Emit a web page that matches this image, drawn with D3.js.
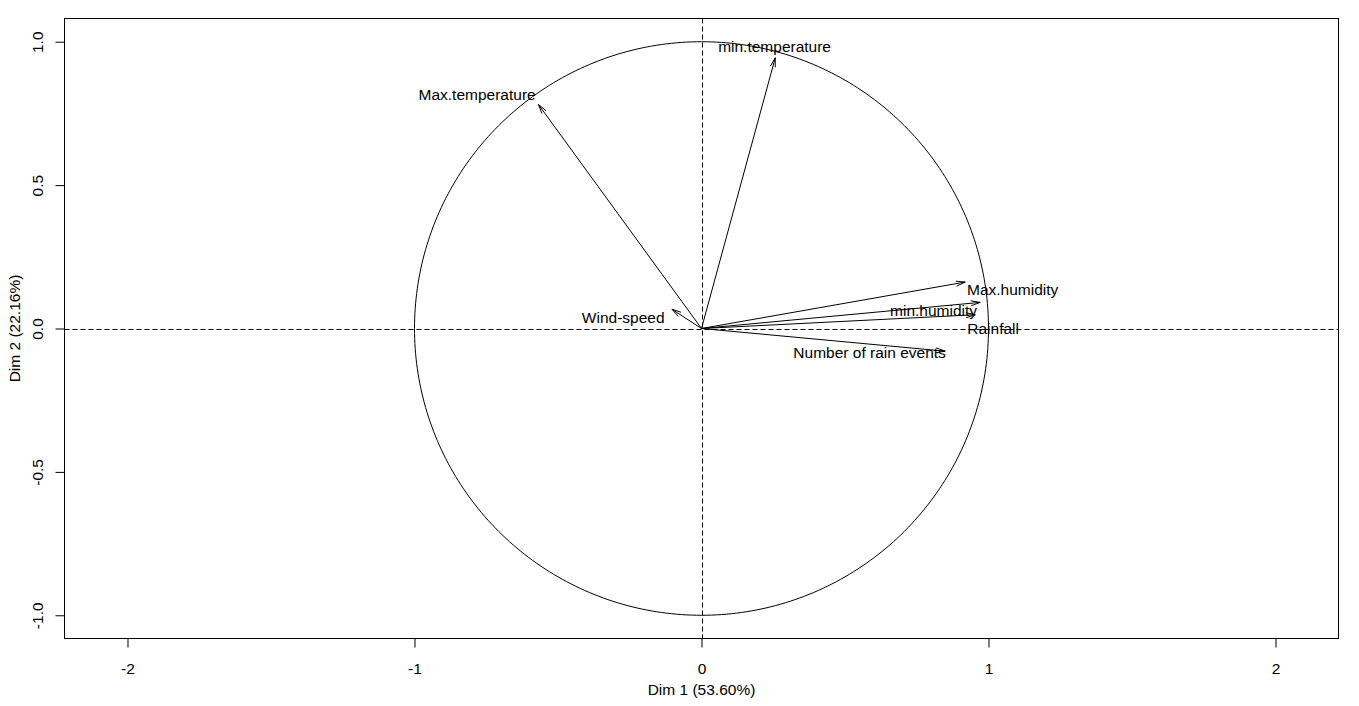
<!DOCTYPE html>
<html>
<head>
<meta charset="utf-8">
<script src="https://cdn.jsdelivr.net/npm/d3@7/dist/d3.min.js"></script>
<style>
  html, body { margin: 0; padding: 0; background: #fff; }
  svg { display: block; }
  text { font-family: "Liberation Sans", Arial, sans-serif; font-size: 15.5px; fill: #000; }
</style>
</head>
<body>
<svg id="chart" width="1359" height="706"></svg>
<script>
// ---- data ----
const variables = ["min.temperature", "Max.temperature", "Max.humidity", "min.humidity", "Rainfall", "Number of rain events", "Wind-speed"];
const dim1 = [0.257, -0.568, 0.919, 0.971, 0.954, 0.849, -0.103];
const dim2 = [0.944, 0.781, 0.162, 0.091, 0.048, -0.079, 0.067];
// label anchors (data units, left edge / baseline) as placed by the original plot
const labelDim1 = [0.058, -0.986, 0.925, 0.657, 0.926, 0.320, -0.417];
const labelDim2 = [0.963, 0.796, 0.118, 0.044, -0.019, -0.102, 0.020];
const xTicks = [-2, -1, 0, 1, 2];
const xTickLabels = ["-2", "-1", "0", "1", "2"];
const yTicks = [-1, -0.5, 0, 0.5, 1];
const yTickLabels = ["-1.0", "-0.5", "0.0", "0.5", "1.0"];
const xTitle = "Dim 1 (53.60%)";
const yTitle = "Dim 2 (22.16%)";

// ---- layout ----
const svg = d3.select("#chart");
const pLeft = 64.5, pRight = 1338.5, pTop = 18.5, pBottom = 638.5;
const x = d3.scaleLinear().domain([-2.2195, 2.2195]).range([pLeft, pRight]);
const y = d3.scaleLinear().domain([-1.081, 1.081]).range([pBottom, pTop]);

// dashed axes lines
svg.append("line").attr("x1", pLeft).attr("x2", pRight)
  .attr("y1", Math.round(y(0)) + 0.5).attr("y2", Math.round(y(0)) + 0.5)
  .attr("stroke", "#000").attr("stroke-width", 1).attr("stroke-dasharray", "5,3");
svg.append("line").attr("y1", pTop).attr("y2", pBottom)
  .attr("x1", Math.round(x(0)) + 0.5).attr("x2", Math.round(x(0)) + 0.5)
  .attr("stroke", "#000").attr("stroke-width", 1).attr("stroke-dasharray", "5,3");

// correlation circle (unit circle)
const angles = d3.range(0, 361, 1).map(d => d * Math.PI / 180);
svg.append("path")
  .attr("d", d3.line().x(a => x(Math.cos(a))).y(a => y(Math.sin(a)))(angles))
  .attr("fill", "none").attr("stroke", "#000").attr("stroke-width", 1);

// arrows
const headLen = 9.6, headAng = 15 * Math.PI / 180;
variables.forEach((v, i) => {
  const x0 = x(0), y0 = y(0), x1 = x(dim1[i]), y1 = y(dim2[i]);
  const th = Math.atan2(y1 - y0, x1 - x0);
  svg.append("line").attr("x1", x0).attr("y1", y0).attr("x2", x1).attr("y2", y1)
    .attr("stroke", "#000").attr("stroke-width", 1);
  const p1 = [x1 - headLen * Math.cos(th - headAng), y1 - headLen * Math.sin(th - headAng)];
  const p2 = [x1 - headLen * Math.cos(th + headAng), y1 - headLen * Math.sin(th + headAng)];
  svg.append("path").attr("d", `M${p1[0]},${p1[1]}L${x1},${y1}L${p2[0]},${p2[1]}`)
    .attr("fill", "none").attr("stroke", "#000").attr("stroke-width", 1);
  svg.append("text").attr("x", x(labelDim1[i])).attr("y", y(labelDim2[i]))
    .attr("text-anchor", "start").text(v);
});

// frame
svg.append("rect").attr("x", pLeft).attr("y", pTop)
  .attr("width", pRight - pLeft).attr("height", pBottom - pTop)
  .attr("fill", "none").attr("stroke", "#000").attr("stroke-width", 1);

// x axis
const gx = svg.append("g").attr("transform", `translate(0,${pBottom})`)
  .call(d3.axisBottom(x).tickValues(xTicks).tickSize(9).tickFormat((d, i) => xTickLabels[i]));
gx.select(".domain").remove();
gx.selectAll(".tick line").attr("stroke", "#000");
gx.selectAll(".tick text").attr("y", 35).attr("dy", 0)
  .style("font-family", "'Liberation Sans', Arial, sans-serif").style("font-size", "15.5px").attr("fill", "#000");

// y axis
const gy = svg.append("g").attr("transform", `translate(${pLeft},0)`)
  .call(d3.axisLeft(y).tickValues(yTicks).tickSize(9).tickFormat((d, i) => yTickLabels[i]));
gy.select(".domain").remove();
gy.selectAll(".tick line").attr("stroke", "#000");
gy.selectAll(".tick text")
  .attr("x", null).attr("dy", 0).attr("y", 0)
  .attr("text-anchor", "middle")
  .attr("transform", "translate(-22,0) rotate(-90)")
  .style("font-family", "'Liberation Sans', Arial, sans-serif").style("font-size", "15.5px").attr("fill", "#000");

// axis titles
svg.append("text").attr("x", x(0)).attr("y", 695).attr("text-anchor", "middle").text(xTitle);
svg.append("text").attr("transform", `translate(20,${y(0)}) rotate(-90)`)
  .attr("text-anchor", "middle").text(yTitle);
</script>
</body>
</html>
